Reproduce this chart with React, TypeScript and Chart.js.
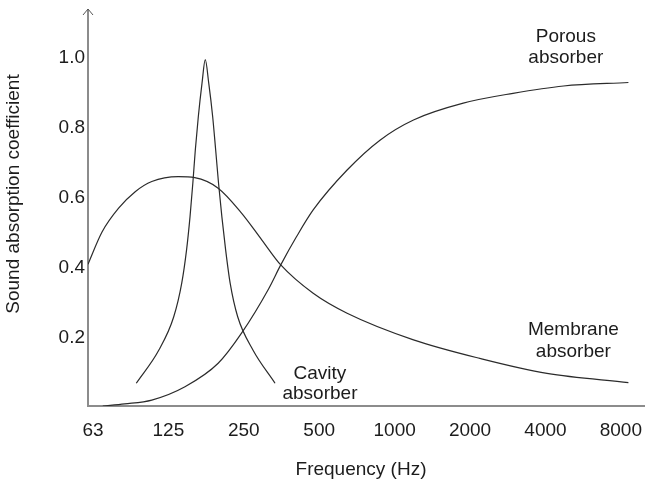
import React, { useEffect, useRef } from 'react';
import { Chart, registerables } from 'chart.js';
Chart.register(...registerables);

// Frequency tick labels (one per octave, starting at 63 Hz)
const freqLabels = ['63', '125', '250', '500', '1000', '2000', '4000', '8000'];
const yTickValues = [0.2, 0.4, 0.6, 0.8, 1.0];

// x = octaves above 63 Hz, y = absorption coefficient
const porousX = [0.13, 0.42, 0.78, 1.22, 1.66, 1.97, 2.33, 2.49, 2.7, 2.92, 3.37, 3.81, 4.25, 4.91, 5.57, 6.24, 7.1];
const porousY = [0.0, 0.006, 0.017, 0.055, 0.122, 0.208, 0.335, 0.403, 0.484, 0.56, 0.674, 0.76, 0.817, 0.865, 0.893, 0.914, 0.924];

const membraneX = [-0.066, 0.12, 0.34, 0.56, 0.78, 1.13, 1.35, 1.66, 1.97, 2.24, 2.49, 2.92, 3.37, 4.25, 5.13, 6.02, 7.1];
const membraneY = [0.405, 0.497, 0.565, 0.612, 0.641, 0.655, 0.652, 0.622, 0.551, 0.474, 0.403, 0.322, 0.265, 0.189, 0.136, 0.093, 0.067];

const cavityX = [0.574, 0.874, 1.071, 1.177, 1.241, 1.287, 1.324, 1.357, 1.397, 1.446, 1.489, 1.535, 1.587, 1.627, 1.665, 1.709, 1.759, 1.819, 1.919, 2.121, 2.414];
const cavityY = [0.065, 0.16, 0.255, 0.351, 0.446, 0.541, 0.636, 0.731, 0.827, 0.922, 0.989, 0.922, 0.827, 0.731, 0.636, 0.541, 0.446, 0.351, 0.255, 0.16, 0.065];

// Curve labels, placed in data units
const curveLabels = [
  { lines: ['Porous', 'absorber'], x: 6.27, y: [1.054, 0.994] },
  { lines: ['Membrane', 'absorber'], x: 6.37, y: [0.218, 0.155] },
  { lines: ['Cavity', 'absorber'], x: 3.01, y: [0.092, 0.035] },
];

const xTitle = 'Frequency (Hz)';
const yTitle = 'Sound absorption coefficient';

const FONT = '"Liberation Sans", Arial, sans-serif';
const TEXT = '#1c1c1c';
const AXIS = '#8c8c8c';
const LINE = '#2b2b2b';

const toPoints = (xs: number[], ys: number[]) => xs.map((x, i) => ({ x, y: ys[i] }));

const decorPlugin = {
  id: 'decor',
  afterDraw(chart: any) {
    const { ctx, chartArea, scales } = chart;
    const xs = scales.x;
    const ys = scales.y;
    ctx.save();
    // arrow at top of y axis
    ctx.strokeStyle = '#555';
    ctx.lineWidth = 1;
    ctx.beginPath();
    ctx.moveTo(chartArea.left - 5, chartArea.top + 5);
    ctx.lineTo(chartArea.left, chartArea.top - 1);
    ctx.lineTo(chartArea.left + 5, chartArea.top + 5);
    ctx.stroke();

    ctx.fillStyle = TEXT;
    ctx.font = `19px ${FONT}`;
    ctx.textAlign = 'center';
    ctx.textBaseline = 'middle';
    curveLabels.forEach((lab) => {
      lab.lines.forEach((t, i) => {
        ctx.fillText(t, xs.getPixelForValue(lab.x), ys.getPixelForValue(lab.y[i]));
      });
    });

    // axis titles
    ctx.fillText(xTitle, 361, 470);
    ctx.translate(14, 194);
    ctx.rotate(-Math.PI / 2);
    ctx.fillText(yTitle, 0, 0);
    ctx.restore();
  },
};

export default function App() {
  const ref = useRef<HTMLCanvasElement | null>(null);
  useEffect(() => {
    document.body.style.margin = '0';
    if (!ref.current) return;
    const lineStyle = {
      borderColor: LINE,
      borderWidth: 1.2,
      pointRadius: 0,
      fill: false,
      cubicInterpolationMode: 'monotone' as const,
    };
    const chart = new Chart(ref.current, {
      type: 'line',
      data: {
        datasets: [
          { label: 'Porous absorber', data: toPoints(porousX, porousY), ...lineStyle },
          { label: 'Membrane absorber', data: toPoints(membraneX, membraneY), ...lineStyle },
          { label: 'Cavity absorber', data: toPoints(cavityX, cavityY), ...lineStyle },
        ],
      },
      options: {
        animation: false,
        responsive: false,
        maintainAspectRatio: false,
        layout: { padding: { top: 10, right: 0, left: 0, bottom: 0 } },
        plugins: { legend: { display: false }, tooltip: { enabled: false } },
        scales: {
          x: {
            type: 'linear',
            min: -0.066,
            max: 7.32,
            grid: { display: false, drawTicks: false },
            border: { display: true, color: AXIS, width: 2 },
            afterBuildTicks: (scale: any) => {
              scale.ticks = freqLabels.map((_, i) => ({ value: i }));
            },
            afterFit: (scale: any) => {
              scale.height = 80;
              scale.paddingLeft = 0;
              scale.paddingRight = 0;
            },
            ticks: {
              autoSkip: false,
              maxRotation: 0,
              padding: 13,
              color: TEXT,
              font: { family: FONT, size: 19 },
              callback: (v: any) => freqLabels[Math.round(Number(v))] ?? '',
            },
          },
          y: {
            type: 'linear',
            min: 0,
            max: 1.131,
            grid: { display: false, drawTicks: false },
            border: { display: true, color: AXIS, width: 2 },
            afterBuildTicks: (scale: any) => {
              scale.ticks = yTickValues.map((v) => ({ value: v }));
            },
            afterFit: (scale: any) => {
              scale.width = 88;
              scale.paddingTop = 0;
              scale.paddingBottom = 0;
            },
            ticks: {
              padding: 3,
              labelOffset: 1.5,
              color: TEXT,
              font: { family: FONT, size: 19 },
              callback: (v: any) => Number(v).toFixed(1),
            },
          },
        },
      },
      plugins: [decorPlugin],
    });
    return () => chart.destroy();
  }, []);
  return (
    <div style={{ width: 645, height: 486, background: '#fff' }}>
      <canvas ref={ref} width={645} height={486} style={{ display: 'block' }} />
    </div>
  );
}
